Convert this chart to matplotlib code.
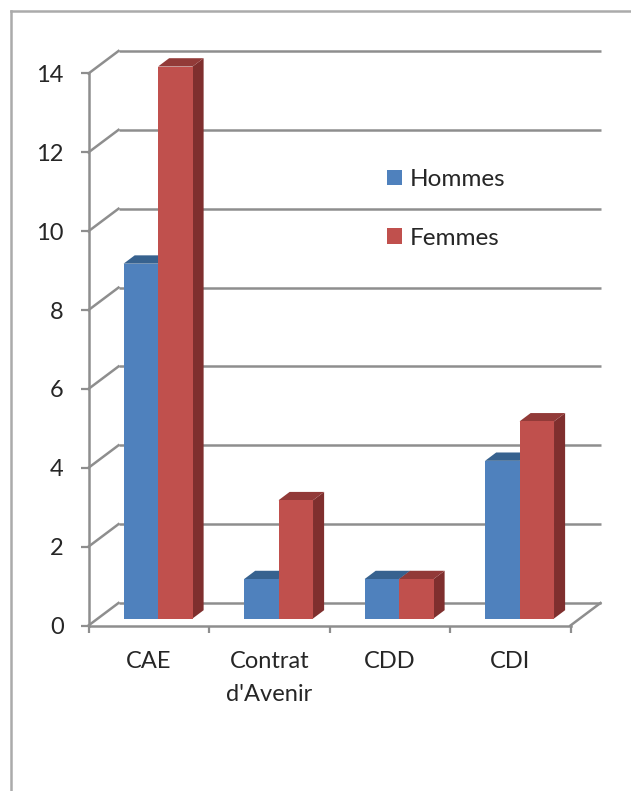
import matplotlib.pyplot as plt
from matplotlib.lines import Line2D
from matplotlib.patches import Patch, Polygon

plt.rcParams['font.family'] = ['Lato', 'DejaVu Sans']

categories = ['CAE', "Contrat\nd'Avenir", 'CDD', 'CDI']
hommes = [9, 1, 1, 4]
femmes = [14, 3, 1, 5]
y_ticks = [0, 2, 4, 6, 8, 10, 12, 14]

W, H = 631, 791
GRID = '#8e8e8e'
TEXT = '#262626'
# (front, top, side) shades of each series
BLUE = ('#4f81bd', '#37628f', '#2f5480')
RED = ('#c0504d', '#923a38', '#7f2f2e')

# depth of the fake 3D box, in data units (30 px across, 22.5 px up)
DEPTH_X = 30 / 120.5
DEPTH_Y = 22.5 / 39.43
BAR_FRONT = 0.31
BAR_BACK = 0.68
GAP = 0.214
BAR_W = 0.286


def draw_bar(ax, x, value, shades):
    """One box: side and top faces first, then the front face."""
    x0 = x + BAR_FRONT * DEPTH_X
    x1 = x0 + BAR_W
    y0 = BAR_FRONT * DEPTH_Y
    y1 = y0 + value
    dx = (BAR_BACK - BAR_FRONT) * DEPTH_X
    dy = (BAR_BACK - BAR_FRONT) * DEPTH_Y
    faces = [
        ([(x1, y0), (x1 + dx, y0 + dy), (x1 + dx, y1 + dy), (x1, y1)], shades[2]),
        ([(x0, y1), (x0 + dx, y1 + dy), (x1 + dx, y1 + dy), (x1, y1)], shades[1]),
        ([(x0, y0), (x1, y0), (x1, y1), (x0, y1)], shades[0]),
    ]
    for pts, color in faces:
        ax.add_patch(Polygon(pts, closed=True, facecolor=color, edgecolor='none',
                             clip_on=False, zorder=3))


fig = plt.figure(figsize=(W / 100, H / 100), dpi=100)
ax = fig.add_axes([88.5 / W, (H - 625.5) / H, 482 / W, 552 / H])
ax.set_xlim(0, 4)
ax.set_ylim(0, 14)
ax.patch.set_visible(False)

for side in ['top', 'right']:
    ax.spines[side].set_visible(False)
for side in ['left', 'bottom']:
    ax.spines[side].set_color(GRID)
    ax.spines[side].set_linewidth(1.8)

# back wall gridlines and the slanted lines on the side wall
for v in y_ticks:
    ax.plot([DEPTH_X, 4 + DEPTH_X], [v + DEPTH_Y, v + DEPTH_Y], color=GRID, lw=1.8,
            clip_on=False, zorder=1, solid_capstyle='butt')
    ax.plot([0, DEPTH_X], [v, v + DEPTH_Y], color=GRID, lw=1.8, clip_on=False, zorder=1)
ax.plot([4, 4 + DEPTH_X], [0, DEPTH_Y], color=GRID, lw=1.8, clip_on=False, zorder=1)

for i in range(len(categories)):
    draw_bar(ax, i + GAP, hommes[i], BLUE)
    draw_bar(ax, i + GAP + BAR_W, femmes[i], RED)

ax.set_yticks(y_ticks)
ax.set_xticks(range(len(categories) + 1))
ax.set_xticklabels([])
ax.set_xticks([i + 0.5 for i in range(len(categories))], categories, minor=True)
ax.tick_params(axis='y', length=5.8, width=1.6, color=GRID, labelcolor=TEXT,
               labelsize=17, pad=12)
ax.tick_params(axis='x', which='major', length=5, width=1.6, color=GRID)
ax.tick_params(axis='x', which='minor', length=0, labelcolor=TEXT, labelsize=17, pad=18)
for label in ax.get_xminorticklabels():
    label.set_linespacing(1.72)

handles = [Patch(facecolor=BLUE[0], label='Hommes'), Patch(facecolor=RED[0], label='Femmes')]
fig.legend(handles=handles, loc='upper left', bbox_to_anchor=(387 / W, (H - 169) / H),
           frameon=False, fontsize=17.5, labelcolor=TEXT, borderpad=0, borderaxespad=0,
           handlelength=0.62, handleheight=0.62, handletextpad=0.33, labelspacing=1.55)

# frame around the chart, open at the right and the bottom
fig.add_artist(Line2D([11 / W, 11 / W], [0, (H - 10.5) / H], color='#ababab', lw=1.8))
fig.add_artist(Line2D([11 / W, 1], [(H - 10.5) / H, (H - 10.5) / H], color='#ababab', lw=1.8))

fig.savefig('out.png', dpi=100)
